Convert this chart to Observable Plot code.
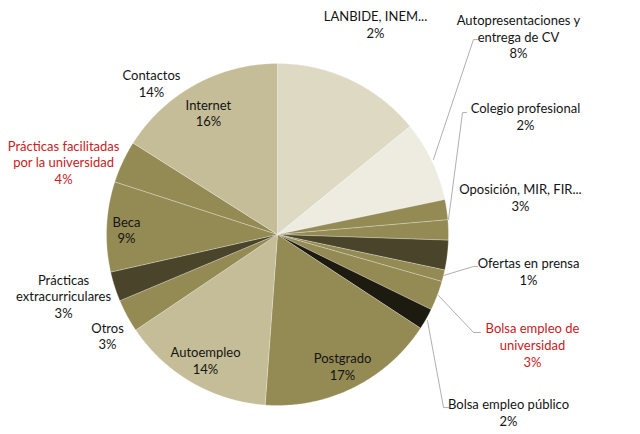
<!DOCTYPE html>
<html><head><meta charset="utf-8">
<script src="https://cdn.jsdelivr.net/npm/d3@7"></script>
<script src="https://cdn.jsdelivr.net/npm/@observablehq/plot@0.6"></script>
<style>body{margin:0;background:#fff;} #chart svg{display:block;}</style>
</head><body><div id="chart"></div>
<script>
// Categories in pie order (clockwise from 12 o'clock)
const categories = [
  "Contactos",
  "Autopresentaciones y\nentrega de CV",
  "LANBIDE, INEM...",
  "Colegio profesional",
  "Oposición, MIR, FIR...",
  "Ofertas en prensa",
  "Bolsa empleo de\nuniversidad",
  "Bolsa empleo público",
  "Postgrado",
  "Autoempleo",
  "Otros",
  "Prácticas\nextracurriculares",
  "Beca",
  "Prácticas facilitadas\npor la universidad",
  "Internet"
];
// Share of each category (%)
const shares = [14.1, 7.6, 1.9, 1.9, 2.8, 1.1, 2.8, 2.0, 16.9, 14.4, 3.1, 2.8, 8.5, 4.0, 16.0];
// Categories highlighted in red
const highlighted = ["Bolsa empleo de\nuniversidad", "Prácticas facilitadas\npor la universidad"];

// ---- styles / layout (not data) ----
const sliceColors = ["#DDD9C3", "#EEECE1", "#948A54", "#948A54", "#4A452A", "#948A54", "#948A54", "#1D1B10",
                     "#948A54", "#C4BD97", "#948A54", "#4A452A", "#948A54", "#948A54", "#C4BD97"];
// label centres in unit-circle coordinates (radius = 1)
const labelLayout = [
  [-0.737, 0.883], [1.409, 1.160], [0.573, 1.228], [1.450, 0.693], [1.421, 0.219],
  [1.468, -0.216], [1.491, -0.646], [1.351, -1.038], [0.380, -0.772], [-0.421, -0.737],
  [-0.994, -0.591], [-1.251, -0.360], [-0.883, 0.029], [-1.251, 0.424], [-0.404, 0.713]
];
// leader lines: category index -> polyline in unit coordinates
const leaderLayout = [
  [1, [[0.912, 0.439], [1.146, 1.140], [1.175, 1.140]]],
  [3, [[1.000, 0.088], [1.082, 0.713], [1.105, 0.713]]],
  [5, [[0.971, -0.240], [1.146, -0.187], [1.170, -0.187]]],
  [6, [[0.942, -0.357], [1.146, -0.573], [1.187, -0.573]]],
  [7, [[0.877, -0.503], [0.971, -1.012], [1.000, -1.012]]]
];

// ---- build slice polygons ----
const total = d3.sum(shares);
const slicePts = [];
let acc = 0;
categories.forEach((c, i) => {
  const a0 = acc / total * 2 * Math.PI;
  acc += shares[i];
  const a1 = acc / total * 2 * Math.PI;
  const n = Math.max(2, Math.ceil((a1 - a0) / (Math.PI / 360)));
  const fill = sliceColors[i];
  slicePts.push({c, x: 0, y: 0, fill});
  for (let k = 0; k <= n; k++) {
    const a = a0 + (a1 - a0) * k / n;
    slicePts.push({c, x: Math.sin(a), y: Math.cos(a), fill});
  }
  slicePts.push({c, x: 0, y: 0, fill});
});

const labels = categories.map((c, i) => ({
  x: labelLayout[i][0], y: labelLayout[i][1],
  text: c + "\n" + Math.round(shares[i]) + "%",
  fill: highlighted.includes(c) ? "#C9211E" : "#141414"
}));

const leaderPts = leaderLayout.flatMap(([i, pts]) => pts.map(([x, y]) => ({c: categories[i], x, y})));

const chart = Plot.plot({
  width: 640, height: 434,
  marginLeft: 106, marginRight: 192, marginTop: 63, marginBottom: 29,
  x: {domain: [-1, 1], axis: null},
  y: {domain: [-1, 1], axis: null},
  color: {type: "identity"},
  style: {background: "#fff"},
  marks: [
    Plot.line(slicePts, {x: "x", y: "y", z: "c", fill: "fill", stroke: "#ffffff", strokeWidth: 0.6, strokeOpacity: 0.45, curve: "linear"}),
    Plot.line(leaderPts, {x: "x", y: "y", z: "c", stroke: "#A6A6A6", strokeWidth: 0.9}),
    Plot.text(labels, {x: "x", y: "y", text: "text", fill: "fill", fontSize: 13, lineHeight: 1.3, fontFamily: "Lato", textAnchor: "middle", lineAnchor: "middle"})
  ]
});
document.getElementById("chart").appendChild(chart);
</script>
</body></html>
